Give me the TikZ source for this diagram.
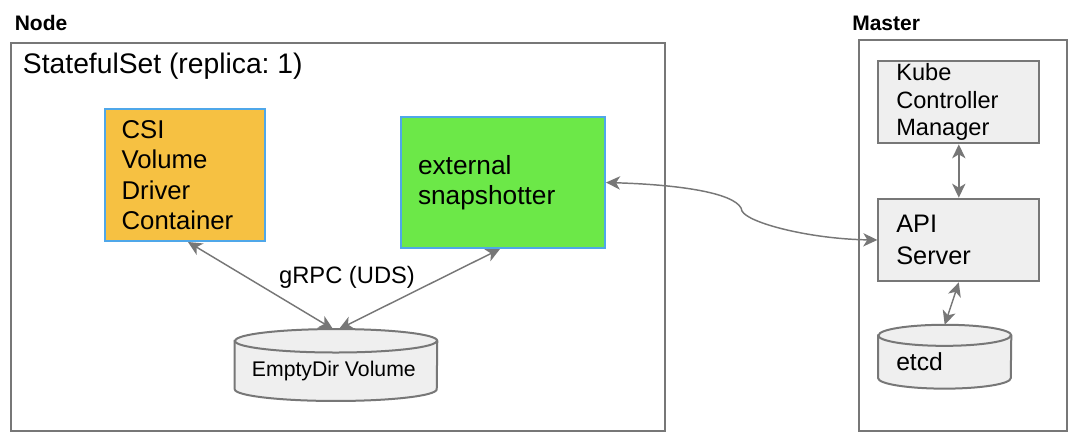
\documentclass[tikz,border=0pt]{standalone}
\usepackage{fontspec}
\setmainfont{Liberation Sans}
\usetikzlibrary{arrows.meta}
\definecolor{linegray}{HTML}{777777}
\definecolor{boxgray}{HTML}{EFEFEF}
\definecolor{csiorange}{HTML}{F6C142}
\definecolor{snapgreen}{HTML}{6CE848}
\definecolor{edgeblue}{HTML}{4FA7E9}
\frenchspacing

\begin{document}
\begin{tikzpicture}[x=0.75pt, y=-0.75pt,
  >={Stealth[length=10.5pt, width=10pt, inset=3pt]},
  frame/.style={draw=linegray, line width=1.5pt, inner sep=0pt},
  title/.style={font=\bfseries\fontsize{15.75}{18}\selectfont, inner sep=0pt},
  container/.style={draw=edgeblue, line width=1.5pt, inner ysep=1pt, align=left},
  component/.style={draw=linegray, fill=boxgray, line width=1.5pt, inner xsep=13.5pt, inner ysep=0pt, align=left},
  store/.style={draw=linegray, fill=boxgray, line width=1.5pt},
  storerim/.style={draw=linegray, line width=1.5pt},
  link/.style={<->, draw=linegray, line width=1.1pt}]
  \useasboundingbox (0, 0) rectangle (1078, 444);

  % titles and outer frames
  \node[title, anchor=base west] (nodelabel) at (14.5, 30) {Node};
  \node[title, anchor=base west] (masterlabel) at (852, 30) {Master};
  \node[frame, minimum width=490.5pt, minimum height=291pt] (nodebox) at (338, 236.7) {};
  \node[frame, minimum width=156pt, minimum height=293.25pt] (masterbox) at (963, 235) {};
  \node[anchor=base west, inner sep=0pt, font=\fontsize{21.2}{24}\selectfont] (setlabel) at (22.7, 73.3) {StatefulSet (replica: 1)};

  % node side
  \node[container, fill=csiorange, inner xsep=12.5pt, text width=95pt, minimum height=99pt, font=\fontsize{19.3}{22.9}\selectfont] (csi) at (185, 175) {CSI\\Volume\\Driver\\Container};
  \node[container, fill=snapgreen, inner xsep=12.75pt, text width=127.5pt, minimum height=98.25pt, font=\fontsize{19.7}{22.5}\selectfont] (snap) at (503, 182.5) {external\\snapshotter};
  \node[inner sep=0pt, minimum width=151.5pt, minimum height=53.55pt] (emptydir) at (336, 365) {};
  \draw[store] ([yshift=-8.8pt]emptydir.north west) -- ([yshift=8.8pt]emptydir.south west)
    arc[start angle=180, end angle=360, x radius=75.75pt, y radius=8.8pt]
    -- ([yshift=-8.8pt]emptydir.north east)
    arc[start angle=0, end angle=180, x radius=75.75pt, y radius=8.8pt] -- cycle;
  \draw[storerim] ([yshift=-8.8pt]emptydir.north west) arc[start angle=180, end angle=360, x radius=75.75pt, y radius=8.8pt];
  \node[anchor=base west, inner sep=0pt, font=\fontsize{15.9}{19}\selectfont] (emptydirlabel) at (251.7, 376.7) {EmptyDir Volume};
  \node[anchor=base, inner sep=0pt, font=\fontsize{17.8}{21}\selectfont] (grpc) at (347, 283.3) {gRPC (UDS)};

  % master side
  \node[component, text width=93.75pt, minimum height=62pt, font=\fontsize{17.7}{20.8}\selectfont] (kube) at (958.8, 102) {Kube\\Controller\\Manager};
  \node[component, text width=93.75pt, minimum height=62pt, font=\fontsize{19}{23.5}\selectfont] (api) at (958.8, 240) {API\\Server};
  \node[inner sep=0pt, minimum width=99.5pt, minimum height=47.5pt] (etcd) at (944.7, 356.7) {};
  \draw[store] ([yshift=-7.9pt]etcd.north west) -- ([yshift=7.9pt]etcd.south west)
    arc[start angle=180, end angle=360, x radius=49.75pt, y radius=7.9pt]
    -- ([yshift=-7.9pt]etcd.north east)
    arc[start angle=0, end angle=180, x radius=49.75pt, y radius=7.9pt] -- cycle;
  \draw[storerim] ([yshift=-7.9pt]etcd.north west) arc[start angle=180, end angle=360, x radius=49.75pt, y radius=7.9pt];
  \node[anchor=base west, inner sep=0pt, font=\fontsize{18.5}{22}\selectfont] (etcdlabel) at (896, 370) {etcd};

  % connectors
  \draw[link] ([xshift=2.25pt]csi.south) -- ([xshift=-2.25pt]emptydir.north);
  \draw[link] ([xshift=-2.25pt]snap.south) -- ([xshift=2.25pt]emptydir.north);
  \draw[link] (snap.east) .. controls (690, 185) and (740, 195) .. (742, 211) .. controls (748, 223) and (810, 239) .. (api.west);
  \draw[link] (kube.south) -- (api.north);
  \draw[link] (api.south) -- (etcd.north);
\end{tikzpicture}
\end{document}
